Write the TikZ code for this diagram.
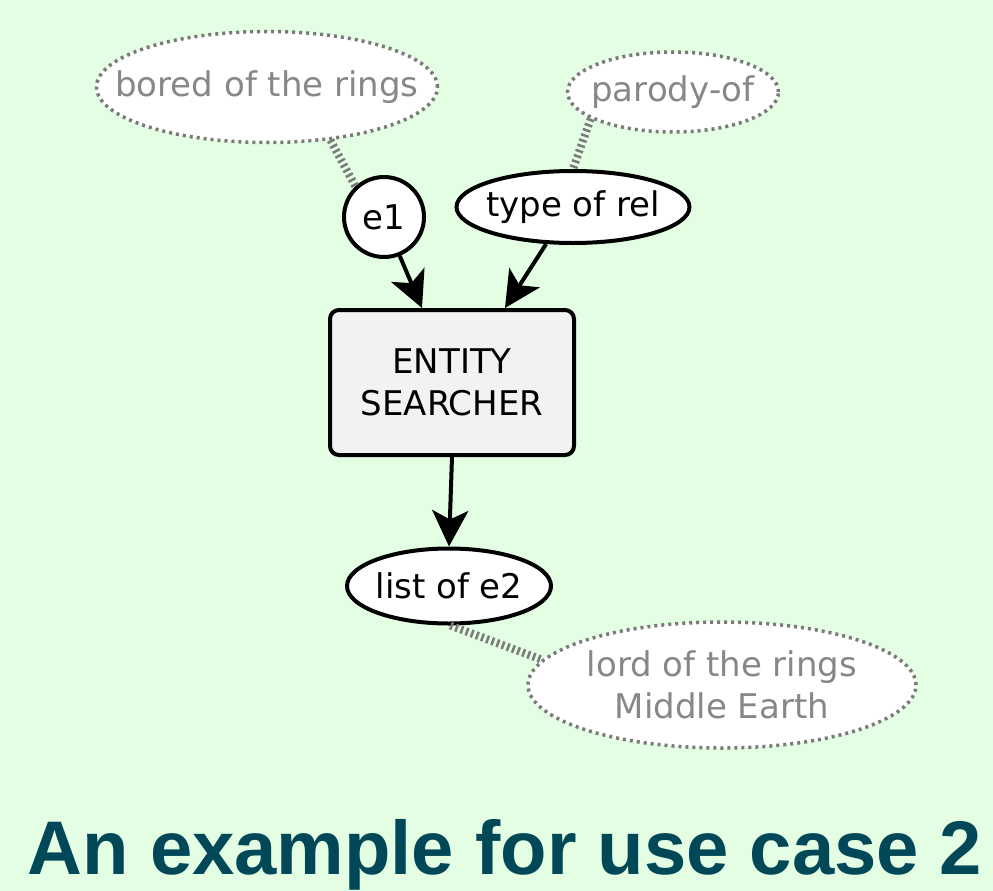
\documentclass[tikz,border=0pt]{standalone}
\usepackage{fontspec}
\setmainfont{DejaVu Sans}
\newfontfamily\titlefont{Liberation Sans}
\usetikzlibrary{shapes.geometric,arrows.meta}
\definecolor{bgc}{RGB}{228,254,228}
\definecolor{greytext}{RGB}{135,135,135}
\definecolor{dotc}{RGB}{122,122,122}
\definecolor{boxfill}{RGB}{242,242,242}
\definecolor{titlec}{RGB}{0,72,88}
\newcommand{\zw}[1]{\makebox[0pt][c]{#1}}
\tikzset{
  lbl/.style={font=\fontsize{34}{42}\selectfont, align=center},
  hint/.style={lbl, shape=ellipse, draw=dotc, fill=white, text=greytext,
    line width=3.5pt, dash pattern=on 3pt off 4pt, inner sep=0pt},
  io/.style={lbl, shape=ellipse, draw=black, fill=white, line width=4pt, inner sep=0pt},
  proc/.style={lbl, rectangle, rounded corners=9pt, draw=black, fill=boxfill,
    line width=4pt, minimum width=244pt, minimum height=145pt},
  link/.style={draw=dotc, line width=8pt, dash pattern=on 2.5pt off 3pt},
  flow/.style={draw=black, line width=4pt, -{Stealth[length=36pt,width=36pt,inset=9pt]}},
}
\begin{document}
\begin{tikzpicture}[x=1pt,y=-1pt]
\fill[bgc] (0,0) rectangle (993,891);
\useasboundingbox (0,0) rectangle (993,891);

\node[hint, minimum width=341pt, minimum height=111pt] (bored) at (267,87) {\zw{bored of the rings}};
\node[hint, minimum width=211pt, minimum height=80pt] (parody) at (673,92) {\zw{parody-of}};
\node[hint, minimum width=388pt, minimum height=126pt] (lord) at (722,685) {\zw{lord of the rings}\\\zw{Middle Earth}};

\node[io, shape=circle, minimum size=80pt] (e1) at (384,217) {e1};
\node[io, minimum width=233pt, minimum height=72pt] (rel) at (573,207) {\zw{type of rel}};
\node[proc] (ent) at (452,382.5) {ENTITY\\SEARCHER};
\node[io, minimum width=204pt, minimum height=75pt] (list) at (449,586) {\zw{list of e2}};

\draw[link] (bored.-40) -- (e1.133);
\draw[link] (parody.198) -- (rel.90);
\draw[link] (list.-88) -- (lord.172);

\draw[flow] (e1.-68) -- ([xshift=-30pt]ent.north);
\draw[flow] (rel.234) -- ([xshift=53pt]ent.north);
\draw[flow] (ent.south) -- (list.north);

\node[font=\titlefont\bfseries\fontsize{76}{80}\selectfont, text=titlec, anchor=base] (title) at (505,874) {An example for use case 2};
\end{tikzpicture}
\end{document}
